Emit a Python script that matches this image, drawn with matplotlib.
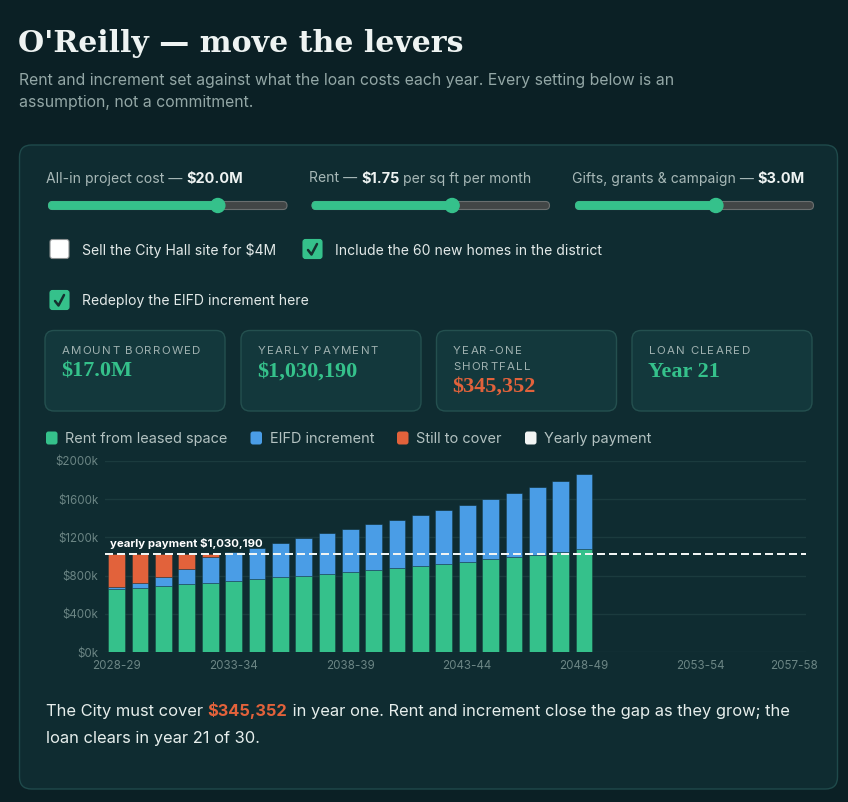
import matplotlib
matplotlib.use("Agg")
import matplotlib.pyplot as plt
from matplotlib.patches import FancyBboxPatch, Circle
import numpy as np

# ---------------- data ----------------
years = [f"{y}-{str(y + 1)[-2:]}" for y in range(2028, 2058)]
rent_k = [657, 674, 691, 709, 720, 741, 762, 783, 800, 818, 839, 860, 881, 902,
          926, 947, 972, 993, 1018, 1042, 1077]
eifd_k = [27, 46, 92, 158, 280, 305, 326, 354, 389, 428, 449, 477, 505, 534,
          564, 597, 632, 674, 708, 751, 786]
cover_k = [345.352, 310, 247, 163, 30, 0, 0, 0, 0, 0, 0, 0, 0, 0,
           0, 0, 0, 0, 0, 0, 0]
payment_k = 1030.19
tick_idx = [0, 5, 10, 15, 20, 25, 29]
y_ticks = [0, 400, 800, 1200, 1600, 2000]
y_tick_labels = ["$0k", "$400k", "$800k", "$1200k", "$1600k", "$2000k"]
legend_labels = ["Rent from leased space", "EIFD increment", "Still to cover", "Yearly payment"]
card_labels = [["AMOUNT BORROWED"], ["YEARLY PAYMENT"], ["YEAR-ONE", "SHORTFALL"], ["LOAN CLEARED"]]
card_values = ["$17.0M", "$1,030,190", "$345,352", "Year 21"]
slider_names = ["All-in project cost \u2014 ", "Rent \u2014 ", "Gifts, grants & campaign \u2014 "]
slider_values = ["$20.0M", "$1.75", "$3.0M"]
slider_suffix = ["", " per sq ft per month", ""]
slider_frac = [0.71, 0.59, 0.59]
checks = [("Sell the City Hall site for $4M", False),
          ("Include the 60 new homes in the district", True),
          ("Redeploy the EIFD increment here", True)]

# ---------------- style ----------------
BG = "#0b2025"
PANEL = "#0f2c31"
PANEL_EDGE = "#1f4a4b"
CARD = "#13383c"
CARD_EDGE = "#24504f"
GREEN = "#35c18b"
BLUE = "#4a9de6"
RED = "#e2623b"
WHITE = "#eef3f2"
GRAY = "#93a7a6"
TICK = "#6b8584"
GRID = "#1b3b3e"
SANS = ["Inter", "DejaVu Sans"]
SERIF = ["Liberation Serif", "DejaVu Serif"]
TITLE_SERIF = ["DejaVu Serif"]

W, H = 848, 802
fig = plt.figure(figsize=(W / 100, H / 100), dpi=100, facecolor=BG)
bg = fig.add_axes([0, 0, 1, 1])
bg.set_xlim(0, W)
bg.set_ylim(H, 0)
bg.axis("off")
bg.set_facecolor(BG)
renderer = fig.canvas.get_renderer()


def px(p):
    return p * 0.72


def txt(x, y, s, size, color, weight="normal", family=SANS, **kw):
    return bg.text(x, y, s, fontsize=px(size), color=color, fontweight=weight,
                   family=family, va="baseline", ha="left", **kw)


def width(t):
    return t.get_window_extent(renderer).width


def run(x, y, pieces):
    for s, size, color, weight, fam in pieces:
        t = txt(x, y, s, size, color, weight, fam)
        x += width(t)
    return x


def spaced(x, y, s, size, color, spacing=1.3):
    for ch in s:
        if ch == " ":
            x += size * 0.28 + spacing
            continue
        t = txt(x, y, ch, size, color)
        x += width(t) + spacing


# title
txt(18, 52, "O'Reilly \u2014 move the levers", 30, WHITE, "bold", TITLE_SERIF)
txt(19, 85, "Rent and increment set against what the loan costs each year. Every setting below is an",
    15.8, GRAY)
txt(19, 107, "assumption, not a commitment.", 15.8, GRAY)

# panel
bg.add_patch(FancyBboxPatch((19.5, 145), 818, 644, boxstyle="round,pad=0,rounding_size=12",
                            fc=PANEL, ec=PANEL_EDGE, lw=1))

# sliders
col_x = [46, 309, 572]
track_x = [(48.5, 287), (312, 549.5), (575.5, 813.5)]
for i in range(3):
    x = col_x[i]
    x = run(x, 182.5, [(slider_names[i], 14, "#a7b8b7", "normal", SANS)])
    x = run(x, 182.5, [(slider_values[i], 14.5, WHITE, "bold", SANS)])
    if slider_suffix[i]:
        run(x, 182.5, [(slider_suffix[i], 14, "#a7b8b7", "normal", SANS)])
    a, b = track_x[i]
    k = a + (b - a) * slider_frac[i]
    bg.add_patch(FancyBboxPatch((a, 201.5), b - a, 8, boxstyle="round,pad=0,rounding_size=4",
                                fc="#424646", ec="#6a6f6f", lw=0.8))
    bg.add_patch(FancyBboxPatch((a, 201.5), k - a, 8, boxstyle="round,pad=0,rounding_size=4",
                                fc=GREEN, ec=GREEN, lw=0.6))
    bg.add_patch(Circle((k, 205.5), 7, fc=GREEN, ec=GREEN))

# checkboxes
cb_pos = [(50, 239.5, 81.5, 255), (303, 239.5, 335, 255), (50, 290.5, 81.5, 305.5)]
for (label, on), (bx, by, lx, ly) in zip(checks, cb_pos):
    if on:
        bg.add_patch(FancyBboxPatch((bx, by), 19, 19, boxstyle="round,pad=0,rounding_size=2.5",
                                    fc=GREEN, ec=GREEN, lw=0.8))
        bg.plot([bx + 5, bx + 8.5, bx + 14], [by + 10.5, by + 15, by + 4.5],
                color="#15312f", lw=1.8, solid_capstyle="round", solid_joinstyle="round")
    else:
        bg.add_patch(FancyBboxPatch((bx, by), 19, 19, boxstyle="round,pad=0,rounding_size=2.5",
                                    fc="#ffffff", ec="#8a8f90", lw=0.8))
    txt(lx, ly, label, 14, "#e2e9e8")

# cards
card_x = [45, 241, 436.5, 632]
for i in range(4):
    cx = card_x[i]
    bg.add_patch(FancyBboxPatch((cx, 330.5), 180, 80.5, boxstyle="round,pad=0,rounding_size=9",
                                fc=CARD, ec=CARD_EDGE, lw=1))
    yy = 354.5
    for line in card_labels[i]:
        spaced(cx + 16.5, yy, line, 11.5, "#9fb1b0")
        yy += 15.3
    vy = 376.8 if len(card_labels[i]) == 1 else 391.8
    txt(cx + 16, vy, card_values[i], 22.3, RED if i == 2 else GREEN, "bold", SERIF)

# legend
leg_x = [46, 250.5, 397, 525]
leg_c = [GREEN, BLUE, RED, "#f2f5f4"]
for i in range(4):
    bg.add_patch(FancyBboxPatch((leg_x[i], 431.5), 11.5, 13, boxstyle="round,pad=0,rounding_size=2.5",
                                fc=leg_c[i], ec="none"))
    txt(leg_x[i] + 19, 443, legend_labels[i], 14.5, "#b3c2c1")

# ---------------- chart ----------------
ax = fig.add_axes([105 / W, 1 - 652 / H, 701 / W, 191 / H])
ax.set_facecolor("none")
n = len(rent_k)
xs = np.arange(n)
rent = np.array(rent_k)
eifd = np.array(eifd_k)
cover = np.array(cover_k)
edge = (0.06, 0.17, 0.19, 0.35)
bw = 0.715
ax.bar(xs, rent, bw, color=GREEN, edgecolor=edge, lw=0.72, zorder=3)
ax.bar(xs, eifd, bw, bottom=rent, color=BLUE, edgecolor=edge, lw=0.72, zorder=3)
ax.bar(xs, cover, bw, bottom=rent + eifd, color=RED, edgecolor=edge, lw=0.72, zorder=3)
ax.axhline(payment_k, color="#f0f4f3", lw=1.44, ls=(0, (4, 2)), zorder=4)
ax.text(-0.29, payment_k + 72, f"yearly payment ${payment_k * 1000:,.0f}", fontsize=px(11.4),
        color="#ffffff", fontweight="bold", family=SANS, va="baseline", zorder=5)
ax.set_xlim(-0.5, 29.5)
ax.set_ylim(0, 2000)
ax.set_yticks(y_ticks)
ax.set_yticklabels(y_tick_labels)
ax.set_xticks(tick_idx)
ax.set_xticklabels([years[i] for i in tick_idx])
for s in ax.spines.values():
    s.set_visible(False)
ax.grid(axis="y", color=GRID, lw=1, zorder=0)
ax.tick_params(length=0, colors=TICK, labelsize=px(11.6), pad=px(6.5))
for lab in ax.get_xticklabels() + ax.get_yticklabels():
    lab.set_family(SANS)
    lab.set_color(TICK)
ax.tick_params(axis="x", pad=px(8))

# bottom summary
x = run(46, 716, [("The City must cover ", 16.5, "#e6eeec", "normal", SANS)])
x = run(x + 0, 716, [("$345,352", 16.5, RED, "bold", SANS)])
run(x, 716, [(" in year one. Rent and increment close the gap as they grow; the", 16.5, "#e6eeec", "normal", SANS)])
txt(46, 742.5, "loan clears in year 21 of 30.", 16.5, "#e6eeec")

fig.savefig("out.png", dpi=100, facecolor=BG)
